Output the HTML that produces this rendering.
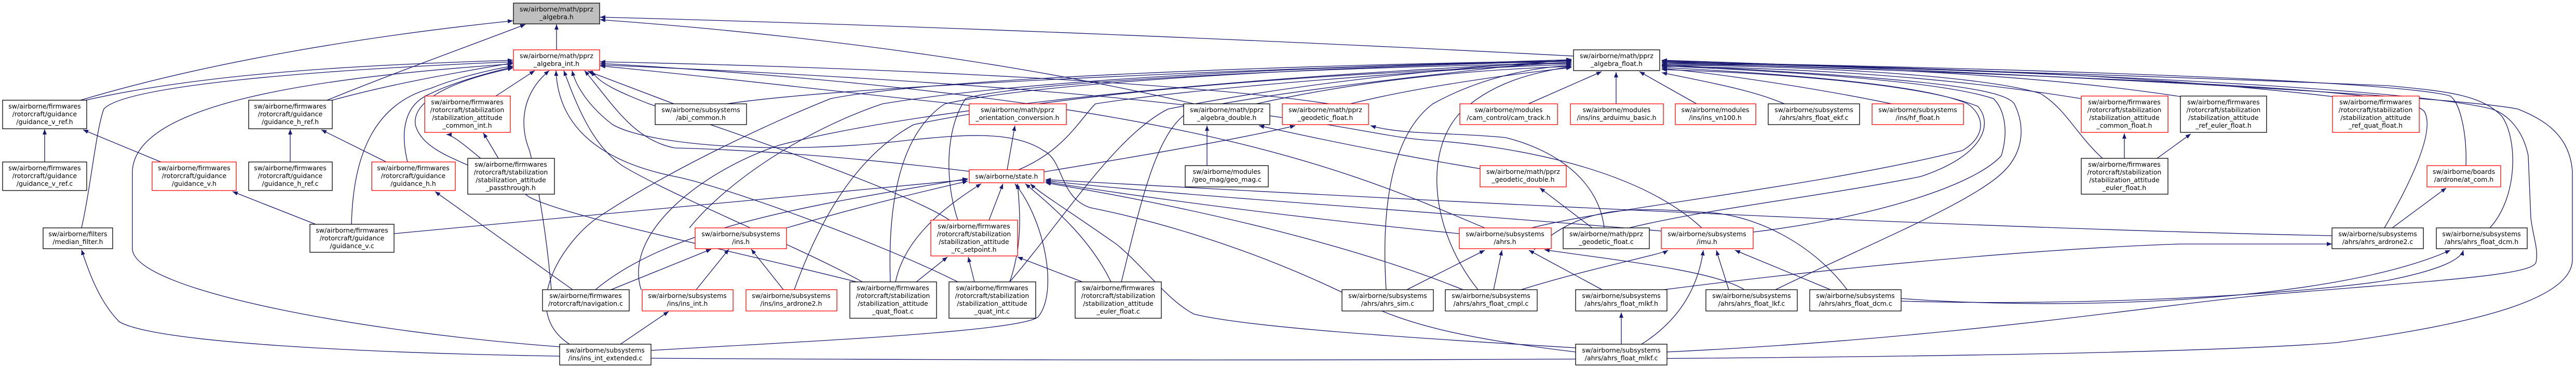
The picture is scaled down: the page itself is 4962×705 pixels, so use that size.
<!DOCTYPE html>
<html><head><meta charset="utf-8"><style>
html,body{margin:0;padding:0;background:#fff;}
svg{display:block;}
text{font-family:"DejaVu Sans","Liberation Sans",sans-serif;font-size:12.5px;fill:#000;}
.e{fill:none;stroke:#191970;stroke-width:1.3;marker-end:url(#ah);}
.b{fill:#fff;stroke:#000;stroke-width:1.3;}
.r{fill:#fff;stroke:#ff0000;stroke-width:1.3;}
.g{fill:#bfbfbf;stroke:#000;stroke-width:1.3;}
</style></head><body>
<svg width="4962" height="705" viewBox="0 0 4962 705" xmlns="http://www.w3.org/2000/svg">
<defs><marker id="ah" markerWidth="10" markerHeight="8" refX="10" refY="4" orient="auto" markerUnits="userSpaceOnUse"><path d="M0,0 L10,4 L0,8 z" fill="#191970"/></marker></defs>
<g>
<!-- edges to pprz_algebra.h -->
<path class="e" d="M1072,96 L1072,47"/>
<path class="e" d="M155,193 C400,120 700,70 988,40"/>
<path class="e" d="M630,193 C760,140 900,90 1012,47"/>
<path class="e" d="M3031,108 C2500,80 1800,50 1156,33"/>
<path class="e" d="M2300,200 C2000,130 1600,70 1156,38"/>
<!-- edges to algebra_int -->
<path class="e" d="M165,193 C400,140 700,125 988,116"/>
<path class="e" d="M157,439 C175,360 185,250 200,210 C240,165 600,135 988,119"/>
<path class="e" d="M1078,668 C700,640 260,560 255,480 L255,330 C260,200 600,150 988,123"/>
<path class="e" d="M640,193 C760,160 880,140 988,121"/>
<path class="e" d="M677,432 C680,300 720,200 830,170 C880,150 940,135 988,127"/>
<path class="e" d="M785,312 C770,250 780,200 830,180 C870,160 940,140 988,129"/>
<path class="e" d="M901,318 C860,300 810,280 800,240 C795,200 850,160 988,131"/>
<path class="e" d="M955,185 L1030,136"/>
<path class="e" d="M1062,558 C1050,420 1030,330 1020,290 C1000,240 1005,180 1058,136"/>
<path class="e" d="M1845,543 C1700,470 1400,360 1300,340 C1150,310 1075,240 1071,136"/>
<path class="e" d="M1661,543 C1550,480 1300,380 1200,320 C1140,280 1110,200 1086,136"/>
<path class="e" d="M3035,678 C2800,650 2700,620 2620,580 C2400,470 2200,420 2100,400 C2040,380 2050,310 2010,290 C1950,250 1850,260 1750,270 C1500,300 1250,280 1180,240 C1140,210 1110,170 1102,136"/>
<path class="e" d="M1867,330 C1700,310 1500,290 1300,285 C1220,270 1180,200 1126,136"/>
<path class="e" d="M1298,200 L1132,137"/>
<path class="e" d="M1867,203 C1600,175 1300,140 1156,127"/>
<path class="e" d="M1829,424 C1750,370 1400,250 1250,200 C1200,180 1150,160 1140,136"/>
<path class="e" d="M2860,439 C2600,330 2300,190 1156,122"/>
<path class="e" d="M3278,439 C3150,320 2900,280 2750,270 C2600,260 2450,180 1156,125"/>
<path class="e" d="M2560,200 C2300,160 1700,130 1156,119"/>
<!-- guidance -->
<path class="e" d="M86,312 L86,249"/>
<path class="e" d="M559,312 L559,249"/>
<path class="e" d="M310,312 L160,250"/>
<path class="e" d="M744,312 L619,250"/>
<path class="e" d="M608,432 L448,369"/>
<path class="e" d="M1103,558 L838,369"/>
<path class="e" d="M960,305 L931,256"/>
<path class="e" d="M1078,686 C700,680 300,660 230,620 C190,580 170,520 157,481"/>
<!-- ins -->
<path class="e" d="M1177,558 L1370,480"/>
<path class="e" d="M1341,558 L1404,480"/>
<path class="e" d="M1509,558 L1447,480"/>
<path class="e" d="M1195,663 L1288,600"/>
<path class="e" d="M1097,663 C1000,600 1080,470 1150,420 C1300,320 1500,230 1600,190 C1800,150 2500,125 3027,117"/>
<path class="e" d="M1328,439 C1400,350 1550,250 1700,200 C2000,150 2600,125 3027,118"/>
<path class="e" d="M1235,558 C1200,450 1350,330 1500,280 C1800,200 2500,140 3027,120"/>
<path class="e" d="M1530,558 C1580,420 1650,300 1760,240 C2100,170 2600,140 3027,124"/>
<path class="e" d="M1400,200 C1600,170 2200,140 3027,115"/>
<!-- state -->
<path class="e" d="M1940,327 L1955,242"/>
<path class="e" d="M2011,331 C2200,300 2400,265 2495,242"/>
<path class="e" d="M1962,327 C2050,290 2080,230 2110,200 C2300,170 2700,140 3027,120"/>
<path class="e" d="M1905,424 L1932,354"/>
<path class="e" d="M1725,543 C1740,470 1800,410 1890,354"/>
<path class="e" d="M1945,543 C1970,470 1965,410 1960,354"/>
<path class="e" d="M2140,543 C2100,460 2030,400 1975,354"/>
<path class="e" d="M1254,675 C1500,660 1970,640 2000,610 C2040,560 2010,420 1955,354"/>
<path class="e" d="M3035,670 C2700,650 2400,630 2300,605 C2250,580 2200,510 2150,470 C2050,400 2000,370 1985,354"/>
<path class="e" d="M759,450 C1100,420 1500,380 1864,346"/>
<path class="e" d="M1147,558 C1300,430 1600,390 1864,344"/>
<path class="e" d="M1515,439 C1650,400 1750,375 1864,349"/>
<path class="e" d="M2818,558 C2600,470 2300,400 2014,352"/>
<path class="e" d="M2811,450 C2500,420 2200,380 2014,350"/>
<path class="e" d="M3200,445 C2800,410 2300,380 2014,348"/>
<path class="e" d="M4492,454 C3800,440 2800,390 2014,346"/>
<!-- rc setpoint -->
<path class="e" d="M1765,543 L1825,495"/>
<path class="e" d="M1877,543 L1865,495"/>
<path class="e" d="M2085,543 L1960,495"/>
<path class="e" d="M1845,424 C1820,350 1820,250 1860,190 C1950,160 2500,130 3027,122"/>
<path class="e" d="M1715,543 C1710,400 1730,260 1820,200 C2000,160 2500,130 3027,118"/>
<path class="e" d="M1945,543 C2050,420 2150,260 2250,210 C2500,160 2800,130 3027,116"/>
<path class="e" d="M2160,543 C2200,380 2230,240 2300,210 C2500,170 2800,140 3027,114"/>
<path class="e" d="M1650,543 C1400,480 1100,420 1020,380 C950,330 880,260 860,259"/>
<!-- double/geodetic -->
<path class="e" d="M2325,319 L2325,242"/>
<path class="e" d="M2851,325 C2700,300 2550,270 2425,242"/>
<path class="e" d="M2420,200 C2600,160 2800,135 3027,128"/>
<path class="e" d="M2601,200 C2700,175 2850,150 3027,130"/>
<path class="e" d="M3090,439 C3080,350 3000,290 2900,265 C2800,255 2700,260 2640,242"/>
<path class="e" d="M3067,439 L2966,362"/>
<path class="e" d="M3138,439 C3300,400 3500,380 3700,340 C3820,300 3840,240 3810,205 C3700,160 3400,140 3201,134"/>
<!-- AF children -->
<path class="e" d="M2944,200 L3085,138"/>
<path class="e" d="M3113,200 L3113,139"/>
<path class="e" d="M3268,200 L3158,138"/>
<path class="e" d="M3437,200 C3380,175 3300,160 3201,140"/>
<path class="e" d="M3644,200 C3500,170 3300,140 3201,132"/>
<path class="e" d="M4009,190 C3700,140 3400,130 3201,128"/>
<path class="e" d="M4050,305 C4000,260 3980,210 3930,180 C3800,140 3400,125 3201,126"/>
<path class="e" d="M4200,186 C3900,140 3500,125 3201,124"/>
<path class="e" d="M4493,186 C4100,140 3600,125 3201,122"/>
<path class="e" d="M4750,319 C4752,260 4740,200 4720,185 C4600,150 3600,125 3201,120"/>
<path class="e" d="M4796,439 C4850,380 4850,270 4820,225 C4780,180 4700,175 4600,165 C4000,140 3400,125 3201,118"/>
<path class="e" d="M1254,690 C2000,695 4000,700 4500,660 C4800,620 4955,570 4955,500 L4955,330 C4950,260 4900,230 4850,210 C4700,180 3600,128 3201,116"/>
<path class="e" d="M3211,678 C3800,650 4200,580 4400,565 C4700,540 4880,530 4885,505 C4890,480 4880,460 4875,420 L4870,300 C4860,250 4830,220 4800,210 C4600,160 3600,128 3201,117"/>
<path class="e" d="M3420,558 C3600,470 3800,390 3860,330 C3900,290 3900,240 3880,200 C3860,170 3700,150 3201,125"/>
<path class="e" d="M3377,447 C3600,420 3800,360 3855,300 C3870,250 3860,210 3840,190 C3750,160 3500,140 3201,127"/>
<path class="e" d="M2950,439 C3100,400 3500,360 3780,290 C3830,260 3820,220 3790,200 C3700,160 3400,140 3201,130"/>
<path class="e" d="M2670,558 C2660,400 2680,260 2760,200 C2850,150 2950,130 3027,126"/>
<path class="e" d="M2847,558 C2760,450 2740,300 2810,220 C2870,160 2950,140 3027,128"/>
<path class="e" d="M4593,439 C4650,340 4690,250 4670,215 C4640,180 4400,160 3201,120"/>
<!-- ahrs -->
<path class="e" d="M3526,558 L3342,482"/>
<path class="e" d="M3558,558 C3500,480 3400,420 3300,410 C3150,400 3050,390 2955,481"/>
<path class="e" d="M3330,558 L3306,482"/>
<path class="e" d="M3360,558 C3300,520 3100,500 2975,481"/>
<path class="e" d="M3086,558 L2945,482"/>
<path class="e" d="M3123,663 L3123,602"/>
<path class="e" d="M3162,663 C3230,620 3270,560 3281,482"/>
<path class="e" d="M2710,558 L2860,482"/>
<path class="e" d="M2877,558 L2893,482"/>
<path class="e" d="M2930,558 C3050,520 3200,490 3213,482"/>
<path class="e" d="M3205,558 C3500,520 3900,480 4200,470 L4492,470"/>
<path class="e" d="M4608,439 L4712,362"/>
<path class="e" d="M3662,575 C4000,600 4500,580 4720,482"/>
<path class="e" d="M3662,580 C4000,590 4400,570 4600,540 C4700,520 4740,500 4745,482"/>
<path class="e" d="M4092,305 L4092,257"/>
<path class="e" d="M4155,305 L4220,258"/>
</g>
<g>
<rect class="g" x="989" y="6" width="166" height="40"/>
<text x="1072" y="22" text-anchor="middle">sw/airborne/math/pprz</text><text x="1072" y="37" text-anchor="middle">_algebra.h</text>
<rect class="r" x="989" y="96" width="166" height="39"/>
<text x="1072" y="112" text-anchor="middle">sw/airborne/math/pprz</text><text x="1072" y="127" text-anchor="middle">_algebra_int.h</text>
<rect class="b" x="3031" y="96" width="166" height="40"/>
<text x="3114" y="112" text-anchor="middle">sw/airborne/math/pprz</text><text x="3114" y="127" text-anchor="middle">_algebra_float.h</text>

<rect class="b" x="5" y="193" width="162" height="55"/>
<text x="86" y="209" text-anchor="middle">sw/airborne/firmwares</text><text x="86" y="224" text-anchor="middle">/rotorcraft/guidance</text><text x="86" y="239" text-anchor="middle">/guidance_v_ref.h</text>
<rect class="b" x="5" y="312" width="162" height="55"/>
<text x="86" y="328" text-anchor="middle">sw/airborne/firmwares</text><text x="86" y="343" text-anchor="middle">/rotorcraft/guidance</text><text x="86" y="358" text-anchor="middle">/guidance_v_ref.c</text>
<rect class="r" x="293" y="312" width="162" height="55"/>
<text x="374" y="328" text-anchor="middle">sw/airborne/firmwares</text><text x="374" y="343" text-anchor="middle">/rotorcraft/guidance</text><text x="374" y="358" text-anchor="middle">/guidance_v.h</text>
<rect class="b" x="479" y="193" width="161" height="55"/>
<text x="559" y="209" text-anchor="middle">sw/airborne/firmwares</text><text x="559" y="224" text-anchor="middle">/rotorcraft/guidance</text><text x="559" y="239" text-anchor="middle">/guidance_h_ref.h</text>
<rect class="b" x="479" y="312" width="161" height="55"/>
<text x="559" y="328" text-anchor="middle">sw/airborne/firmwares</text><text x="559" y="343" text-anchor="middle">/rotorcraft/guidance</text><text x="559" y="358" text-anchor="middle">/guidance_h_ref.c</text>
<rect class="r" x="716" y="312" width="161" height="55"/>
<text x="796" y="328" text-anchor="middle">sw/airborne/firmwares</text><text x="796" y="343" text-anchor="middle">/rotorcraft/guidance</text><text x="796" y="358" text-anchor="middle">/guidance_h.h</text>
<rect class="b" x="83" y="439" width="134" height="40"/>
<text x="150" y="455" text-anchor="middle">sw/airborne/filters</text><text x="150" y="470" text-anchor="middle">/median_filter.h</text>
<rect class="b" x="597" y="432" width="162" height="54"/>
<text x="678" y="448" text-anchor="middle">sw/airborne/firmwares</text><text x="678" y="463" text-anchor="middle">/rotorcraft/guidance</text><text x="678" y="478" text-anchor="middle">/guidance_v.c</text>
<rect class="r" x="818" y="185" width="165" height="70"/>
<text x="900" y="201" text-anchor="middle">sw/airborne/firmwares</text><text x="900" y="216" text-anchor="middle">/rotorcraft/stabilization</text><text x="900" y="231" text-anchor="middle">/stabilization_attitude</text><text x="900" y="246" text-anchor="middle">_common_int.h</text>
<rect class="b" x="901" y="305" width="167" height="69"/>
<text x="984" y="321" text-anchor="middle">sw/airborne/firmwares</text><text x="984" y="336" text-anchor="middle">/rotorcraft/stabilization</text><text x="984" y="351" text-anchor="middle">/stabilization_attitude</text><text x="984" y="366" text-anchor="middle">_passthrough.h</text>
<rect class="b" x="1262" y="200" width="176" height="40"/>
<text x="1350" y="216" text-anchor="middle">sw/airborne/subsystems</text><text x="1350" y="231" text-anchor="middle">/abi_common.h</text>
<rect class="b" x="1045" y="558" width="167" height="41"/>
<text x="1128" y="574" text-anchor="middle">sw/airborne/firmwares</text><text x="1128" y="589" text-anchor="middle">/rotorcraft/navigation.c</text>
<rect class="r" x="1237" y="558" width="175" height="41"/>
<text x="1324" y="574" text-anchor="middle">sw/airborne/subsystems</text><text x="1324" y="589" text-anchor="middle">/ins/ins_int.h</text>
<rect class="r" x="1437" y="558" width="175" height="41"/>
<text x="1524" y="574" text-anchor="middle">sw/airborne/subsystems</text><text x="1524" y="589" text-anchor="middle">/ins/ins_ardrone2.h</text>
<rect class="r" x="1339" y="439" width="176" height="40"/>
<text x="1427" y="455" text-anchor="middle">sw/airborne/subsystems</text><text x="1427" y="470" text-anchor="middle">/ins.h</text>
<rect class="b" x="1078" y="663" width="176" height="40"/>
<text x="1166" y="679" text-anchor="middle">sw/airborne/subsystems</text><text x="1166" y="694" text-anchor="middle">/ins/ins_int_extended.c</text>
<rect class="b" x="1637" y="543" width="167" height="70"/>
<text x="1720" y="559" text-anchor="middle">sw/airborne/firmwares</text><text x="1720" y="574" text-anchor="middle">/rotorcraft/stabilization</text><text x="1720" y="589" text-anchor="middle">/stabilization_attitude</text><text x="1720" y="604" text-anchor="middle">_quat_float.c</text>
<rect class="r" x="1867" y="200" width="187" height="40"/>
<text x="1960" y="216" text-anchor="middle">sw/airborne/math/pprz</text><text x="1960" y="231" text-anchor="middle">_orientation_conversion.h</text>
<rect class="r" x="1867" y="327" width="144" height="25"/>
<text x="1939" y="344" text-anchor="middle">sw/airborne/state.h</text>
<rect class="r" x="1793" y="424" width="167" height="69"/>
<text x="1876" y="440" text-anchor="middle">sw/airborne/firmwares</text><text x="1876" y="455" text-anchor="middle">/rotorcraft/stabilization</text><text x="1876" y="470" text-anchor="middle">/stabilization_attitude</text><text x="1876" y="485" text-anchor="middle">_rc_setpoint.h</text>
<rect class="b" x="1828" y="543" width="167" height="70"/>
<text x="1911" y="559" text-anchor="middle">sw/airborne/firmwares</text><text x="1911" y="574" text-anchor="middle">/rotorcraft/stabilization</text><text x="1911" y="589" text-anchor="middle">/stabilization_attitude</text><text x="1911" y="604" text-anchor="middle">_quat_int.c</text>
<rect class="b" x="2071" y="543" width="166" height="70"/>
<text x="2154" y="559" text-anchor="middle">sw/airborne/firmwares</text><text x="2154" y="574" text-anchor="middle">/rotorcraft/stabilization</text><text x="2154" y="589" text-anchor="middle">/stabilization_attitude</text><text x="2154" y="604" text-anchor="middle">_euler_float.c</text>
<rect class="b" x="2280" y="200" width="166" height="40"/>
<text x="2363" y="216" text-anchor="middle">sw/airborne/math/pprz</text><text x="2363" y="231" text-anchor="middle">_algebra_double.h</text>
<rect class="b" x="2283" y="319" width="160" height="41"/>
<text x="2363" y="335" text-anchor="middle">sw/airborne/modules</text><text x="2363" y="350" text-anchor="middle">/geo_mag/geo_mag.c</text>
<rect class="r" x="2470" y="200" width="166" height="40"/>
<text x="2553" y="216" text-anchor="middle">sw/airborne/math/pprz</text><text x="2553" y="231" text-anchor="middle">_geodetic_float.h</text>
<rect class="r" x="2812" y="200" width="188" height="40"/>
<text x="2906" y="216" text-anchor="middle">sw/airborne/modules</text><text x="2906" y="231" text-anchor="middle">/cam_control/cam_track.h</text>
<rect class="r" x="3025" y="200" width="179" height="40"/>
<text x="3114" y="216" text-anchor="middle">sw/airborne/modules</text><text x="3114" y="231" text-anchor="middle">/ins/ins_arduimu_basic.h</text>
<rect class="r" x="3227" y="200" width="155" height="40"/>
<text x="3304" y="216" text-anchor="middle">sw/airborne/modules</text><text x="3304" y="231" text-anchor="middle">/ins/ins_vn100.h</text>
<rect class="r" x="2851" y="319" width="166" height="41"/>
<text x="2934" y="335" text-anchor="middle">sw/airborne/math/pprz</text><text x="2934" y="350" text-anchor="middle">_geodetic_double.h</text>
<rect class="r" x="2811" y="439" width="177" height="40"/>
<text x="2899" y="455" text-anchor="middle">sw/airborne/subsystems</text><text x="2899" y="470" text-anchor="middle">/ahrs.h</text>
<rect class="b" x="3011" y="439" width="166" height="40"/>
<text x="3094" y="455" text-anchor="middle">sw/airborne/math/pprz</text><text x="3094" y="470" text-anchor="middle">_geodetic_float.c</text>
<rect class="r" x="3200" y="439" width="177" height="40"/>
<text x="3288" y="455" text-anchor="middle">sw/airborne/subsystems</text><text x="3288" y="470" text-anchor="middle">/imu.h</text>
<rect class="b" x="2585" y="558" width="176" height="41"/>
<text x="2673" y="574" text-anchor="middle">sw/airborne/subsystems</text><text x="2673" y="589" text-anchor="middle">/ahrs/ahrs_sim.c</text>
<rect class="b" x="2784" y="558" width="177" height="41"/>
<text x="2872" y="574" text-anchor="middle">sw/airborne/subsystems</text><text x="2872" y="589" text-anchor="middle">/ahrs/ahrs_float_cmpl.c</text>
<rect class="b" x="3035" y="558" width="176" height="41"/>
<text x="3123" y="574" text-anchor="middle">sw/airborne/subsystems</text><text x="3123" y="589" text-anchor="middle">/ahrs/ahrs_float_mlkf.h</text>
<rect class="b" x="3286" y="558" width="176" height="41"/>
<text x="3374" y="574" text-anchor="middle">sw/airborne/subsystems</text><text x="3374" y="589" text-anchor="middle">/ahrs/ahrs_float_lkf.c</text>
<rect class="b" x="3486" y="558" width="176" height="41"/>
<text x="3574" y="574" text-anchor="middle">sw/airborne/subsystems</text><text x="3574" y="589" text-anchor="middle">/ahrs/ahrs_float_dcm.c</text>
<rect class="b" x="3035" y="663" width="176" height="40"/>
<text x="3123" y="679" text-anchor="middle">sw/airborne/subsystems</text><text x="3123" y="694" text-anchor="middle">/ahrs/ahrs_float_mlkf.c</text>
<rect class="b" x="3406" y="200" width="176" height="40"/>
<text x="3494" y="216" text-anchor="middle">sw/airborne/subsystems</text><text x="3494" y="231" text-anchor="middle">/ahrs/ahrs_float_ekf.c</text>
<rect class="r" x="3606" y="200" width="176" height="40"/>
<text x="3694" y="216" text-anchor="middle">sw/airborne/subsystems</text><text x="3694" y="231" text-anchor="middle">/ins/hf_float.h</text>
<rect class="r" x="4009" y="185" width="167" height="70"/>
<text x="4092" y="201" text-anchor="middle">sw/airborne/firmwares</text><text x="4092" y="216" text-anchor="middle">/rotorcraft/stabilization</text><text x="4092" y="231" text-anchor="middle">/stabilization_attitude</text><text x="4092" y="246" text-anchor="middle">_common_float.h</text>
<rect class="b" x="4009" y="305" width="167" height="69"/>
<text x="4092" y="321" text-anchor="middle">sw/airborne/firmwares</text><text x="4092" y="336" text-anchor="middle">/rotorcraft/stabilization</text><text x="4092" y="351" text-anchor="middle">/stabilization_attitude</text><text x="4092" y="366" text-anchor="middle">_euler_float.h</text>
<rect class="b" x="4200" y="185" width="166" height="70"/>
<text x="4283" y="201" text-anchor="middle">sw/airborne/firmwares</text><text x="4283" y="216" text-anchor="middle">/rotorcraft/stabilization</text><text x="4283" y="231" text-anchor="middle">/stabilization_attitude</text><text x="4283" y="246" text-anchor="middle">_ref_euler_float.h</text>
<rect class="r" x="4493" y="185" width="167" height="70"/>
<text x="4576" y="201" text-anchor="middle">sw/airborne/firmwares</text><text x="4576" y="216" text-anchor="middle">/rotorcraft/stabilization</text><text x="4576" y="231" text-anchor="middle">/stabilization_attitude</text><text x="4576" y="246" text-anchor="middle">_ref_quat_float.h</text>
<rect class="r" x="4675" y="319" width="142" height="41"/>
<text x="4746" y="335" text-anchor="middle">sw/airborne/boards</text><text x="4746" y="350" text-anchor="middle">/ardrone/at_com.h</text>
<rect class="b" x="4492" y="439" width="176" height="40"/>
<text x="4580" y="455" text-anchor="middle">sw/airborne/subsystems</text><text x="4580" y="470" text-anchor="middle">/ahrs/ahrs_ardrone2.c</text>
<rect class="b" x="4693" y="439" width="175" height="40"/>
<text x="4780" y="455" text-anchor="middle">sw/airborne/subsystems</text><text x="4780" y="470" text-anchor="middle">/ahrs/ahrs_float_dcm.h</text>
</g>
</svg>
</body></html>
